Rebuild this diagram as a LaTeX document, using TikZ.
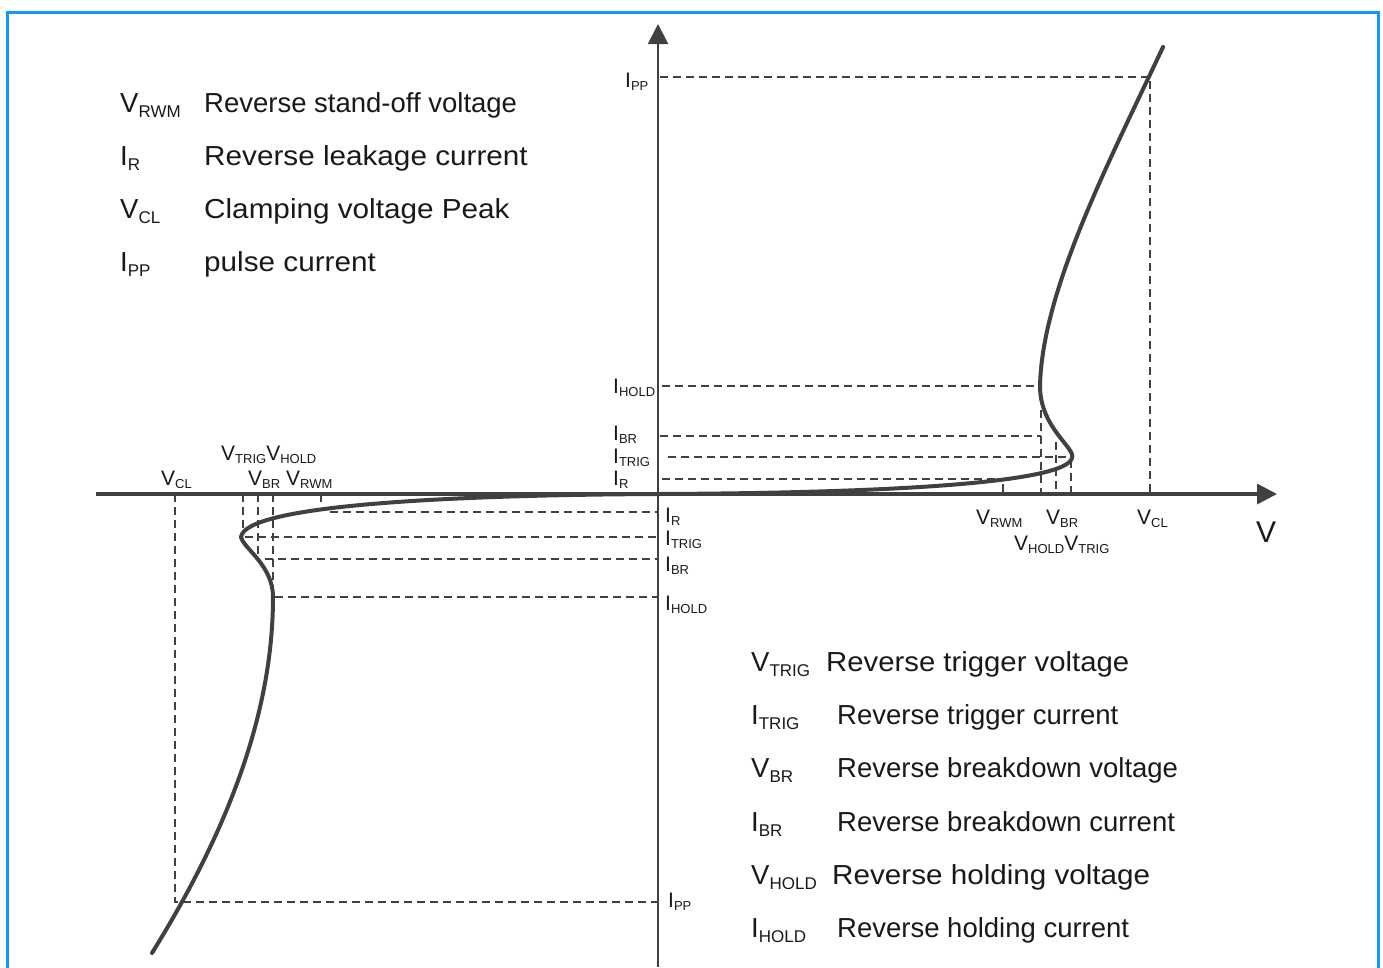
\documentclass[tikz,border=0pt]{standalone}
\usepackage{fontspec}
\setmainfont{Liberation Sans}
\usetikzlibrary{arrows.meta}
\definecolor{frameblue}{RGB}{20,150,255}
\definecolor{ink}{RGB}{64,64,64}
\definecolor{txt}{RGB}{25,25,25}
\newcommand{\ssub}[1]{\raisebox{-3pt}{\fontsize{13}{13}\selectfont #1}}
\newcommand{\lsub}[1]{\raisebox{-5pt}{\fontsize{17}{17}\selectfont #1}}
\newcommand{\wider}[2]{\scalebox{#1}[1]{#2}}
\tikzset{
  x=1pt, y=-1pt,
  small/.style={font=\fontsize{21}{21}\selectfont, text=txt, inner sep=0pt, anchor=base west},
  big/.style={font=\fontsize{27.5}{28}\selectfont, text=txt, inner sep=0pt, anchor=base west},
  guide/.style={draw=ink, line width=2.4pt, dash pattern=on 8pt off 5pt},
  curve/.style={draw=ink, line width=4pt},
  axis/.style={draw=ink, -{Triangle[length=20pt,width=20pt]}},
}
\begin{document}
\begin{tikzpicture}
\useasboundingbox (0,0) rectangle (1383,967);
% frame
\draw[frameblue, line width=3pt] (7,968) -- (7,12) -- (1378,12) -- (1378,968);

% coordinates
\coordinate (O) at (658,494);
\coordinate (xend) at (1277,494);
\coordinate (xstart) at (96,494);
\coordinate (ybot) at (658,967);
\coordinate (ytop) at (658,24);

% axes
\draw[axis, line width=3.5pt] (xstart) -- (xend);
\draw[axis, line width=2pt] (ybot) -- (ytop);

% right-side guides
\coordinate (rPP) at (1150,77);
\draw[guide] (660,77) -- (rPP) -- (1150,494);
\draw[guide] (662,386) -- (1036,386);
\draw[guide] (660,436) -- (1041,436);
\draw[guide] (1041,410) -- (1041,494);
\draw[guide] (1056,442) -- (1056,494);
\draw[guide] (668,457) -- (1068,457);
\draw[guide] (1071,460) -- (1071,494);
\draw[guide] (662,479) -- (995,479);
\draw[guide] (1003,484) -- (1003,494);

% left-side guides
\draw[guide] (330,512) -- (658,512);
\draw[guide] (245,537) -- (658,537);
\draw[guide] (265,559) -- (658,559);
\draw[guide] (275,597) -- (658,597);
\draw[guide] (175,494) -- (175,902) -- (658,902);
\draw[guide] (243,494) -- (243,535);
\draw[guide] (258,494) -- (258,555);
\draw[guide] (273,494) -- (273,593);
\draw[guide] (321,494) -- (321,504);

% characteristic curve
\draw[curve, line cap=round] (152,953)
  .. controls (222,840) and (273,720) .. (273,597)
  .. controls (273,565) and (243,548) .. (241,537)
  .. controls (245,505) and (450,495) .. (O)
  .. controls (900,493) and (1066,482) .. (1072,458)
  .. controls (1076,448) and (1040,428) .. (1040,386)
  .. controls (1042,290) and (1110,160) .. (1163,47);

% axis label
\node[small, font=\fontsize{30}{30}\selectfont] (vlab) at (1256,542) {V};

% right labels
\node[small] (rVRWM) at (976,524) {V\ssub{RWM}};
\node[small] (rVBR) at (1046,524) {V\ssub{BR}};
\node[small] (rVCL) at (1137,524) {V\ssub{CL}};
\node[small] (rVHT) at (1014,550) {V\ssub{HOLD}V\ssub{TRIG}};

% left labels
\node[small] (lVCL) at (161,485) {V\ssub{CL}};
\node[small] (lVTH) at (221,460) {V\ssub{TRIG}V\ssub{HOLD}};
\node[small] (lVBR) at (248,485) {V\ssub{BR} V\ssub{RWM}};

% current labels above axis
\node[small] (uIPP) at (625,87) {I\ssub{PP}};
\node[small] (uIHOLD) at (613,393) {I\ssub{HOLD}};
\node[small] (uIBR) at (613,440) {I\ssub{BR}};
\node[small] (uITRIG) at (613,463) {I\ssub{TRIG}};
\node[small] (uIR) at (613,485) {I\ssub{R}};
% current labels below axis
\node[small] (dIR) at (665,522) {I\ssub{R}};
\node[small] (dITRIG) at (665,545) {I\ssub{TRIG}};
\node[small] (dIBR) at (665,571) {I\ssub{BR}};
\node[small] (dIHOLD) at (665,610) {I\ssub{HOLD}};
\node[small] (dIPP) at (668,907) {I\ssub{PP}};

% legend top-left
\node[big] (s1) at (120,112) {V\lsub{RWM}};
\node[big] (d1) at (204,112) {Reverse stand-off voltage};
\node[big] (s2) at (120,165) {I\lsub{R}};
\node[big] (d2) at (204,165) {\wider{1.08}{Reverse leakage current}};
\node[big] (s3) at (120,218) {V\lsub{CL}};
\node[big] (d3) at (204,218) {\wider{1.08}{Clamping voltage Peak}};
\node[big] (s4) at (120,271) {I\lsub{PP}};
\node[big] (d4) at (204,271) {\wider{1.08}{pulse current}};

% legend bottom-right
\node[big] (t1) at (751,671) {V\lsub{TRIG}};
\node[big] (e1) at (826,671) {\wider{1.066}{Reverse trigger voltage}};
\node[big] (t2) at (751,724) {I\lsub{TRIG}};
\node[big] (e2) at (837,724) {Reverse trigger current};
\node[big] (t3) at (751,777) {V\lsub{BR}};
\node[big] (e3) at (837,777) {Reverse breakdown voltage};
\node[big] (t4) at (751,831) {I\lsub{BR}};
\node[big] (e4) at (837,831) {Reverse breakdown current};
\node[big] (t5) at (751,884) {V\lsub{HOLD}};
\node[big] (e5) at (832,884) {\wider{1.078}{Reverse holding voltage}};
\node[big] (t6) at (751,937) {I\lsub{HOLD}};
\node[big] (e6) at (837,937) {Reverse holding current};
\end{tikzpicture}
\end{document}
